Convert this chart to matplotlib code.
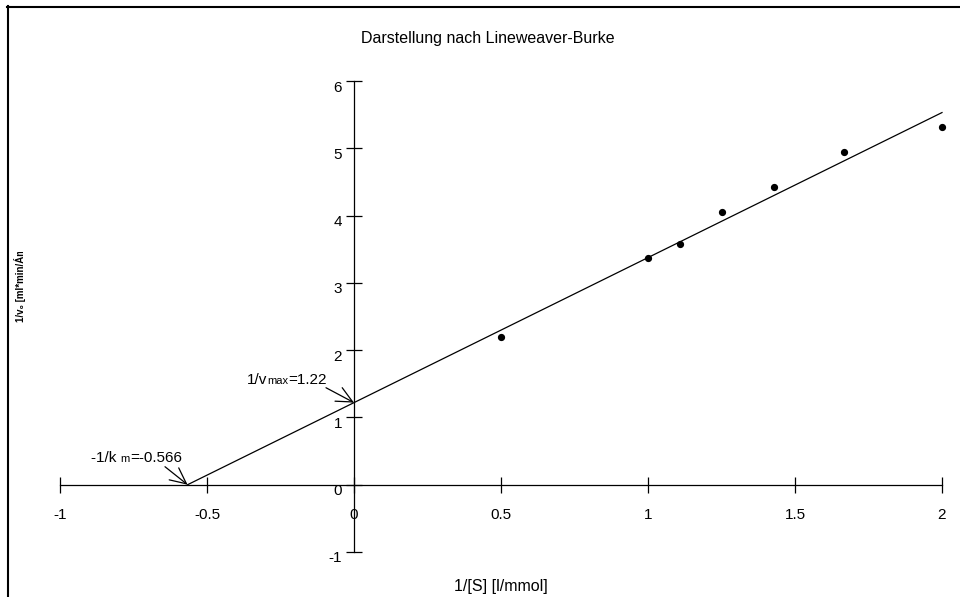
import matplotlib
matplotlib.use("Agg")
import matplotlib.pyplot as plt
import numpy as np
from matplotlib.lines import Line2D
from matplotlib.transforms import ScaledTranslation, Bbox, TransformedBbox
from matplotlib.offsetbox import TextArea, HPacker, AnnotationBbox

plt.rcParams['font.family'] = ['Liberation Sans', 'DejaVu Sans']

# data
inv_s = [0.5, 1.0, 1.11, 1.25, 1.43, 1.667, 2.0]
inv_v = [2.20, 3.37, 3.58, 4.06, 4.43, 4.94, 5.32]
inv_vmax = 1.22
neg_inv_km = -0.566
xticks = [-1, -0.5, 0, 0.5, 1, 1.5, 2]
yticks = [-1, 0, 1, 2, 3, 4, 5, 6]

fig = plt.figure(figsize=(9.6, 5.97), dpi=100)
ax = fig.add_axes([60/960, 45/597, 882/960, 471/597])
ax.set_xlim(-1, 2)
ax.set_ylim(-1, 6)

# regression line through intercepts
slope = inv_vmax / (-neg_inv_km)
lx = np.array([neg_inv_km, 2.0])
ax.plot(lx, inv_vmax + slope * lx, color='black', lw=0.9, clip_on=False)
ax.plot(inv_s, inv_v, 'o', color='black', ms=4.2, clip_on=False)

for s in ['top', 'right']:
    ax.spines[s].set_visible(False)
ax.spines['left'].set_position(('data', 0))
ax.spines['bottom'].set_position(('data', 0))
ax.spines['left'].set_linewidth(0.9)
ax.spines['bottom'].set_linewidth(0.9)
ax.set_xticks(xticks)
ax.set_yticks(yticks)
ax.set_xticklabels([f"{t:g}" for t in xticks])
ax.set_yticklabels([f"{t:g}" for t in yticks])
ax.tick_params(axis='both', direction='inout', length=11, width=0.9, labelsize=11)
ax.tick_params(axis='x', pad=11)
ax.tick_params(axis='y', pad=3)
off = ScaledTranslation(0, -5/100, fig.dpi_scale_trans)
for lab in ax.get_yticklabels():
    lab.set_transform(lab.get_transform() + off)
ax.patch.set_visible(False)

# title & x label
fig.text(488/960, 1 - 38/597, "Darstellung nach Lineweaver-Burke", ha='center', va='center', fontsize=11.5)
fig.text(501/960, 1 - 587/597, "1/[S] [l/mmol]", ha='center', va='center', fontsize=11.5)

# y label (clipped)
yl = fig.text(20/960, 1 - 322/597, "1/v\u2080 [ml*min/\u00c1mol]", rotation=90, rotation_mode='anchor',
              ha='left', va='center', fontsize=7, fontweight='bold')
yl.set_clip_on(True)
yl.set_clip_box(TransformedBbox(Bbox([[0, 0], [60/960, 1 - 252/597]]), fig.transFigure))

# annotations
def label(parts, xy_px):
    areas = [TextArea(t, textprops=dict(fontsize=fs, color='black')) for t, fs in parts]
    pack = HPacker(children=areas, align='baseline', pad=0, sep=0)
    ab = AnnotationBbox(pack, (xy_px[0]/960, 1 - xy_px[1]/597), xycoords='figure fraction',
                        frameon=False, box_alignment=(0, 0))
    fig.add_artist(ab)

label([("1/v", 11), ("max", 8), ("=1.22", 11)], (247, 387))
label([("-1/k ", 11), ("m", 8), ("=-0.566", 11)], (91, 465))

ap = dict(arrowstyle='->,head_length=1.15,head_width=0.55', color='black', lw=0.9, shrinkA=0, shrinkB=0)
ax.annotate("", xy=(0, inv_vmax), xytext=((325-353)/294, (485-388)/67.3), arrowprops=ap)
ax.annotate("", xy=(neg_inv_km, 0), xytext=((164-353)/294, (485-467)/67.3), arrowprops=ap)

# outer frame
fig.add_artist(Line2D([7.5/960, 7.5/960], [0, 1 - 6/597], transform=fig.transFigure, color='black', lw=1.5))
fig.add_artist(Line2D([7/960, 1], [1 - 6.5/597, 1 - 6.5/597], transform=fig.transFigure, color='black', lw=1.5))

fig.savefig("out.png", dpi=100)
